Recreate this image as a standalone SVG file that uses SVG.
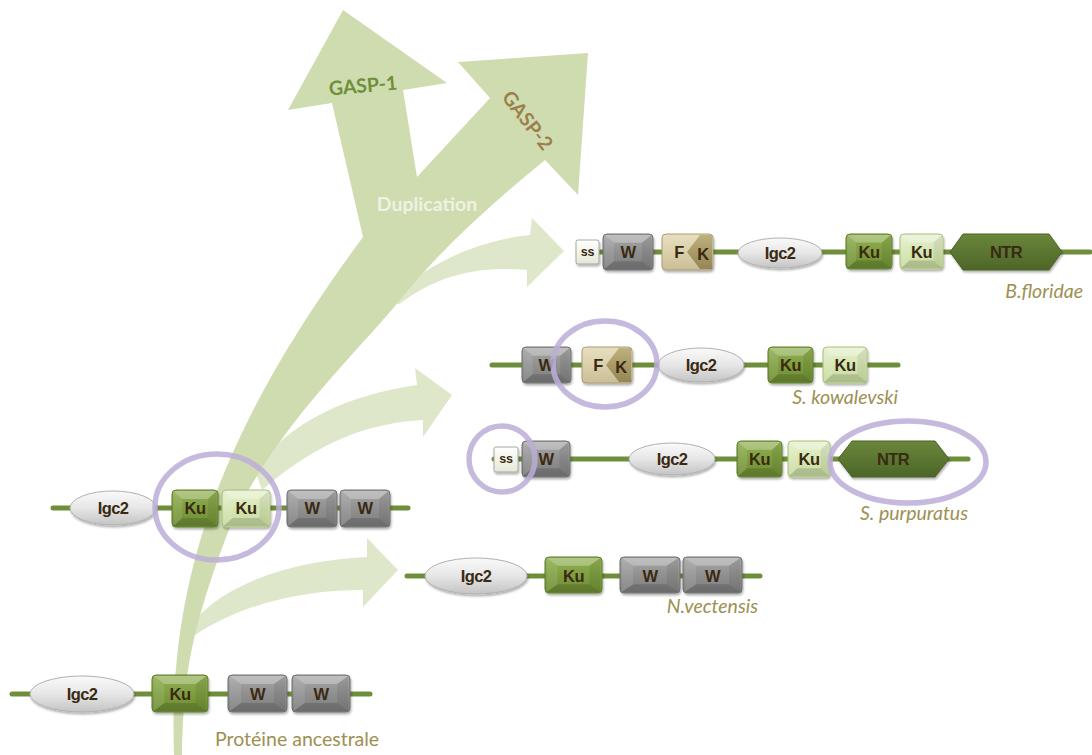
<svg xmlns="http://www.w3.org/2000/svg" width="1092" height="755" viewBox="0 0 1092 755">
<defs>
<style>
.bg{fill:#ffffff}
.trunk{fill:#cfdcb0}
.side{fill:#dfe7ca}
.line{stroke:#6f8e3a;stroke-width:5;stroke-linecap:round;fill:none}
.box{stroke-width:1;filter:url(#sh)}
.w{fill:url(#gW);stroke:#6e6e6e}
.ku{fill:url(#gKu);stroke:#5f7d2c}
.kul{fill:url(#gKuL);stroke:#a9bf7c}
.f{fill:url(#gF);stroke:#a89c74}
.k{fill:url(#gK);stroke:none}
.ntr{fill:url(#gN);stroke:#4a6324;filter:url(#sh)}
.ss{fill:url(#gS);stroke:#a8a8a0;filter:url(#sh)}
.ig{fill:url(#gI);stroke:#b0b0b0;filter:url(#sh)}
.t{font-family:"Liberation Sans",Arial,sans-serif;font-weight:bold;font-size:16.5px;letter-spacing:-0.6px;fill:#3a2a12;text-anchor:middle;dominant-baseline:central}
.ts{font-size:12.5px;letter-spacing:-0.3px}
.sp{font-family:Lato,"Open Sans",sans-serif;font-style:italic;font-size:19.5px;fill:#9d9052;text-anchor:end}
.anc{font-family:Lato,"Open Sans",sans-serif;font-size:19.5px;fill:#9d9052}
.hl{fill:none;stroke:#bcadd8;stroke-width:5.5;stroke-opacity:0.85}
.big{font-family:Lato,"Open Sans",sans-serif;font-weight:bold;font-size:19.5px;text-anchor:middle;dominant-baseline:central}
.bt{fill:#ffffff;fill-opacity:0.28}
.bb{fill:#000000;fill-opacity:0.14}
.bl{fill:#ffffff;fill-opacity:0.1}
.br{fill:#000000;fill-opacity:0.07}
</style>
<filter id="sh" x="-20%" y="-20%" width="140%" height="150%"><feDropShadow dx="1" dy="2" stdDeviation="1.2" flood-color="#000" flood-opacity="0.3"/></filter>
<symbol id="bev" viewBox="0 0 100 100" preserveAspectRatio="none">
<polygon class="bt" points="3,3 97,3 78,24 22,24"/>
<polygon class="bb" points="3,97 97,97 78,76 22,76"/>
<polygon class="bl" points="3,3 22,24 22,76 3,97"/>
<polygon class="br" points="97,3 78,24 78,76 97,97"/>
</symbol>
<linearGradient id="gW" x1="0" y1="0" x2="0" y2="1"><stop offset="0" stop-color="#a8a8a8"/><stop offset="0.5" stop-color="#909090"/><stop offset="1" stop-color="#7c7c7c"/></linearGradient>
<linearGradient id="gKu" x1="0" y1="0" x2="0" y2="1"><stop offset="0" stop-color="#93b257"/><stop offset="0.5" stop-color="#7e9e40"/><stop offset="1" stop-color="#6d8c33"/></linearGradient>
<linearGradient id="gKuL" x1="0" y1="0" x2="0" y2="1"><stop offset="0" stop-color="#e6f0cf"/><stop offset="0.5" stop-color="#d6e6b3"/><stop offset="1" stop-color="#c6da9f"/></linearGradient>
<linearGradient id="gF" x1="0" y1="0" x2="0" y2="1"><stop offset="0" stop-color="#e6dfbf"/><stop offset="0.5" stop-color="#dad0ab"/><stop offset="1" stop-color="#c9be96"/></linearGradient>
<linearGradient id="gK" x1="0" y1="0" x2="0" y2="1"><stop offset="0" stop-color="#bfb080"/><stop offset="0.5" stop-color="#a99a68"/><stop offset="1" stop-color="#958656"/></linearGradient>
<linearGradient id="gN" x1="0" y1="0" x2="0" y2="1"><stop offset="0" stop-color="#6a873a"/><stop offset="0.5" stop-color="#5b7631"/><stop offset="1" stop-color="#4d6628"/></linearGradient>
<linearGradient id="gS" x1="0" y1="0" x2="0" y2="1"><stop offset="0" stop-color="#ffffff"/><stop offset="1" stop-color="#e4e8d6"/></linearGradient>
<linearGradient id="gI" x1="0" y1="0" x2="0" y2="1"><stop offset="0" stop-color="#fafafa"/><stop offset="0.5" stop-color="#e6e6e6"/><stop offset="1" stop-color="#c4c4c4"/></linearGradient>
</defs>
<rect class="bg" x="0" y="0" width="1092" height="755"/>

<g id="connectors">
<path id="arrow-bflor" class="side" d="M 395,295 C 430,262 480,240 530,235 L 532,218 L 564,251 L 527,287 L 527,270 C 485,266 440,272 398,305 Z"/>
<path id="arrow-skow" class="side" d="M 255,470 C 290,420 350,395 417,385 L 415,368 L 452,395 L 423,437 L 423,420 C 370,423 320,440 262,490 Z"/>
<path id="arrow-nvect" class="side" d="M 195,620 C 230,580 300,560 367,557 L 367,538 L 398,570 L 363,607 L 363,590 C 300,590 240,605 195,635 Z"/>
<path id="trunk" class="trunk" d="M 174,755 C 168,580 220,430 363,237 L 332,103 L 288,110 L 343,10 L 447,83 L 403,90 L 417,177 L 490,98 L 458,62 L 588,53 L 578,195 L 545,160 C 490,205 440,250 400,300 S 262,440 225,540 S 184,680 182,755 Z"/>
<text class="big" x="363" y="85" fill="#6f8f3a" transform="rotate(-5 363 85)">GASP-1</text>
<text class="big" x="528" y="120" fill="#9b7f4c" transform="rotate(52 528 120)">GASP-2</text>
<text class="big" x="427" y="203" fill="#eef2e3">Duplication</text>
</g>

<g id="bfloridae">
<line class="line" x1="590" y1="252" x2="1090" y2="252"/>
<rect class="ss" x="576" y="240" width="23" height="24" rx="2"/><text class="t ts" x="587.5" y="251.5">ss</text>
<rect class="box w" x="603" y="234" width="50" height="36" rx="4"/><use href="#bev" x="603" y="234" width="50" height="36"/><text class="t" x="628" y="252">W</text>
<rect class="box f" x="662" y="234" width="51" height="36" rx="4"/>
<path class="k" d="M 700,235 L 712,235 L 712,269 L 700,269 L 687,252 Z"/>
<text class="t" x="679" y="252">F</text><text class="t" x="703" y="254">K</text>
<ellipse class="ig" cx="780" cy="253" rx="42" ry="15"/><text class="t" x="780" y="253">Igc2</text>
<rect class="box ku" x="846" y="234" width="46" height="35" rx="4"/><use href="#bev" x="846" y="234" width="46" height="35"/><text class="t" x="869" y="252">Ku</text>
<rect class="box kul" x="900" y="234" width="43" height="35" rx="4"/><use href="#bev" x="900" y="234" width="43" height="35"/><text class="t" x="921.5" y="252">Ku</text>
<polygon class="ntr" points="950,252 963,234 1049,234 1062,252 1049,270 963,270"/><text class="t" x="1006" y="252">NTR</text>
<text class="sp" x="1083" y="298">B.floridae</text>
</g>

<g id="skowalevski">
<line class="line" x1="492" y1="365" x2="898" y2="365"/>
<rect class="box w" x="522" y="347" width="49" height="36" rx="4"/><use href="#bev" x="522" y="347" width="49" height="36"/><text class="t" x="546" y="365">W</text>
<rect class="box f" x="582" y="347" width="50" height="36" rx="4"/>
<path class="k" d="M 619,348 L 631,348 L 631,382 L 619,382 L 606,365 Z"/>
<text class="t" x="598" y="365">F</text><text class="t" x="621" y="367">K</text>
<ellipse class="ig" cx="701" cy="365" rx="43" ry="17"/><text class="t" x="701" y="365">Igc2</text>
<rect class="box ku" x="768" y="347" width="45" height="36" rx="4"/><use href="#bev" x="768" y="347" width="45" height="36"/><text class="t" x="790.5" y="365">Ku</text>
<rect class="box kul" x="823" y="347" width="44" height="36" rx="4"/><use href="#bev" x="823" y="347" width="44" height="36"/><text class="t" x="845" y="365">Ku</text>
<ellipse class="hl" cx="605" cy="364" rx="52" ry="43"/>
<text class="sp" x="898" y="404">S. kowalevski</text>
</g>

<g id="spurpuratus">
<line class="line" x1="494" y1="459" x2="968" y2="459"/>
<rect class="ss" x="494" y="447" width="24" height="25" rx="2"/><text class="t ts" x="506" y="459">ss</text>
<rect class="box w" x="522" y="441" width="48" height="36" rx="4"/><use href="#bev" x="522" y="441" width="48" height="36"/><text class="t" x="546" y="459">W</text>
<ellipse class="ig" cx="672" cy="459" rx="43" ry="16"/><text class="t" x="672" y="459">Igc2</text>
<rect class="box ku" x="737" y="441" width="45" height="36" rx="4"/><use href="#bev" x="737" y="441" width="45" height="36"/><text class="t" x="759.5" y="459">Ku</text>
<rect class="box kul" x="788" y="441" width="42" height="36" rx="4"/><use href="#bev" x="788" y="441" width="42" height="36"/><text class="t" x="809" y="459">Ku</text>
<polygon class="ntr" points="838,459 852,441 935,441 949,459 935,477 852,477"/><text class="t" x="893" y="459">NTR</text>
<circle class="hl" cx="502" cy="459" r="33"/>
<ellipse class="hl" cx="908" cy="462" rx="78" ry="41"/>
<text class="sp" x="968" y="520">S. purpuratus</text>
</g>

<g id="intermediate">
<line class="line" x1="53" y1="508" x2="408" y2="508"/>
<ellipse class="ig" cx="113" cy="508" rx="43" ry="17"/><text class="t" x="113" y="508">Igc2</text>
<rect class="box ku" x="172" y="490" width="46" height="37" rx="4"/><use href="#bev" x="172" y="490" width="46" height="37"/><text class="t" x="195" y="508">Ku</text>
<rect class="box kul" x="222" y="490" width="48" height="37" rx="4"/><use href="#bev" x="222" y="490" width="48" height="37"/><text class="t" x="246" y="508">Ku</text>
<rect class="box w" x="287" y="490" width="50" height="37" rx="4"/><use href="#bev" x="287" y="490" width="50" height="37"/><text class="t" x="312" y="508">W</text>
<rect class="box w" x="340" y="490" width="50" height="37" rx="4"/><use href="#bev" x="340" y="490" width="50" height="37"/><text class="t" x="365" y="508">W</text>
<ellipse class="hl" cx="217" cy="507" rx="62" ry="53"/>
</g>

<g id="nvectensis">
<line class="line" x1="407" y1="576" x2="760" y2="576"/>
<ellipse class="ig" cx="476" cy="576" rx="51" ry="18"/><text class="t" x="476" y="576">Igc2</text>
<rect class="box ku" x="545" y="557" width="57" height="36" rx="4"/><use href="#bev" x="545" y="557" width="57" height="36"/><text class="t" x="573.5" y="576">Ku</text>
<rect class="box w" x="620" y="557" width="60" height="36" rx="4"/><use href="#bev" x="620" y="557" width="60" height="36"/><text class="t" x="650" y="576">W</text>
<rect class="box w" x="683" y="557" width="59" height="36" rx="4"/><use href="#bev" x="683" y="557" width="59" height="36"/><text class="t" x="712.5" y="576">W</text>
<text class="sp" x="758" y="613">N.vectensis</text>
</g>

<g id="ancestral">
<line class="line" x1="12" y1="694" x2="370" y2="694"/>
<ellipse class="ig" cx="82" cy="694" rx="52" ry="18"/><text class="t" x="82" y="694">Igc2</text>
<rect class="box ku" x="152" y="675" width="56" height="37" rx="4"/><use href="#bev" x="152" y="675" width="56" height="37"/><text class="t" x="180" y="694">Ku</text>
<rect class="box w" x="228" y="675" width="59" height="37" rx="4"/><use href="#bev" x="228" y="675" width="59" height="37"/><text class="t" x="257.5" y="694">W</text>
<rect class="box w" x="292" y="675" width="58" height="37" rx="4"/><use href="#bev" x="292" y="675" width="58" height="37"/><text class="t" x="321" y="694">W</text>
<text class="anc" x="215" y="746">Protéine ancestrale</text>
</g>
</svg>
